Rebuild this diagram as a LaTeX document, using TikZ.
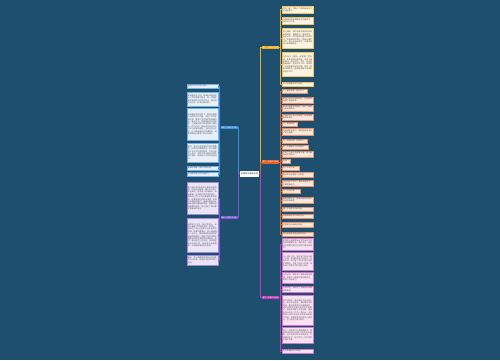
\documentclass[tikz,border=0pt]{standalone}
\usepackage{fontspec}
\setmainfont{Noto Sans CJK SC}
\XeTeXlinebreaklocale "zh"
\XeTeXlinebreakskip=0pt plus 0.4pt
\usetikzlibrary{positioning}
\definecolor{bgBlue}{HTML}{1E4F6E}
\definecolor{brYel}{HTML}{F2AC1E}
\definecolor{brOra}{HTML}{E4622A}
\definecolor{brPnk}{HTML}{C23DB9}
\definecolor{brBlu}{HTML}{3B8EE0}
\definecolor{brPur}{HTML}{7B55D3}
\definecolor{lfYel}{HTML}{FDF3DF}
\definecolor{lfOra}{HTML}{FCE8DC}
\definecolor{lfPnk}{HTML}{F8E2F4}
\definecolor{lfBlu}{HTML}{E6F0FB}
\definecolor{lfPur}{HTML}{EBE5FA}
\definecolor{inkGray}{HTML}{555555}
\newcommand\leaffont{\fontsize{1.9}{2.4}\selectfont\tolerance=9999\emergencystretch=2pt}
\tikzset{
  leaf/.style    = {draw, line width=0.25pt, inner xsep=1pt, inner ysep=0.6pt,
                    text=inkGray, font=\leaffont, align=justify},
  lfyel/.style   = {leaf, fill=lfYel, draw=brYel!70},
  lfora/.style   = {leaf, fill=lfOra, draw=brOra!70},
  lfpnk/.style   = {leaf, fill=lfPnk, draw=brPnk!70},
  lfblu/.style   = {leaf, fill=lfBlu, draw=brBlu!70},
  lfpur/.style   = {leaf, fill=lfPur, draw=brPur!70},
  branch/.style  = {text=white, inner sep=0.6pt, minimum width=17pt,
                    minimum height=3.6pt, font=\fontsize{1.7}{2}\selectfont},
  centre/.style  = {fill=white, text=black!85, inner sep=0.8pt, minimum width=19pt,
                    minimum height=6pt, font=\fontsize{2.1}{2.5}\selectfont},
  conn/.style    = {line width=0.45pt},
}

\begin{document}
\begin{tikzpicture}[x=1pt, y=-1pt]
  \useasboundingbox (0,0) rectangle (500,360);
  \fill[bgBlue] (0,0) rectangle (500,360);

  \node[centre] (root) at (249.5,173.5) {护理实习报告总结};

  \node[branch, fill=brYel] (yb) at (270.5,47.5)  {篇一：护理实习总结};
  \node[branch, fill=brOra] (ob) at (270.5,162)   {篇二：护理实习总结};
  \node[branch, fill=brPnk] (kb) at (270.5,297.5) {篇三：护理实习总结};
  \node[branch, fill=brBlu] (bb) at (229,127.5)   {篇四：护理实习总结};
  \node[branch, fill=brPur] (pb) at (229,217.5)   {篇五：护理实习总结};

  \draw[conn, brYel] (root.east) -- ++(1.5,0) |- (yb.west);
  \draw[conn, brOra] (root.east) -- ++(1.5,0) |- (ob.west);
  \draw[conn, brPnk] (root.east) -- ++(1.5,0) |- (kb.west);
  \draw[conn, brBlu] (root.west) -- ++(-1.5,0) |- (bb.east);
  \draw[conn, brPur] (root.west) -- ++(-1.5,0) |- (pb.east);

  % right side leaves: name / top / height / text width / text
  \foreach \nm/\yy/\h/\w/\tx in {
    y1/6/7/29/{时光飞逝，为期八个月的临床实习已经结束了。},
    y2/17/7/29/{在医院领导和带教老师的指导下，我学到了很多。},
    y3/28/20/29/{实习期间，我严格遵守医院的各项规章制度，尊敬师长，团结同学，踏实工作，努力做到护理工作规范化，技能服务优质化，基础护理灵活化，爱心活动经常化，将理论知识与实践相结合。},
    y4/52/24/29/{在内科实习期间，我掌握了常见病、多发病的护理常规，学会了静脉输液、肌肉注射、导尿、吸痰等基础操作；在外科实习中，我熟悉了术前准备和术后护理，学会了观察病情变化，能够配合医生完成各项治疗工作。},
    y5/82/4/29/{以上就是我的实习总结。}}{
    \node[lfyel, text width=\w pt, minimum height=\h pt, anchor=north west] (\nm) at (282,\yy) {\tx};
    \draw[conn, brYel] (yb.east) -- ++(1.5,0) |- (\nm.west);
  }
  \foreach \nm/\yy/\h/\w/\tx in {
    o1/89/4/23/{一、端正态度，虚心学习},
    o2/97/5.5/29/{刚进入病房时感到陌生，在老师的讲解下逐渐熟悉。},
    o3/105/5.5/29/{每天认真做好交接班，及时了解病人的病情变化。},
    o4/114/5.5/29/{严格执行三查七对制度，杜绝差错事故的发生。},
    o5/122/3.5/13/{二、提高技能},
    o6/128/7/29/{在老师的指导下，我的穿刺技术有了很大提高。},
    o7/139/3.5/23/{三、加强沟通，关爱病人},
    o8/145/3.5/24/{四、注重理论与实践结合},
    o9/151/5.5/29/{学会了与病人及家属沟通，耐心解答他们的疑问。},
    o10/159/3.5/6/{总结},
    o11/166/3.5/15/{五、不足之处},
    o12/172/5/29/{理论知识还需进一步巩固。},
    o13/180/6/29/{在今后的工作中，我会更加努力，不断提高自己。},
    o14/189/4/16/{六、今后打算},
    o15/197/5.5/29/{继续加强学习，提高自身的业务水平和综合素质。},
    o16/207/4/29/{做一名合格的白衣天使。},
    o17/214/4/29/{感谢带教老师的辛勤付出。},
    o18/222/4.5/29/{这段经历让我终身受益。},
    o19/232/4/29/{我将带着收获走向新的岗位。}}{
    \node[lfora, text width=\w pt, minimum height=\h pt, anchor=north west] (\nm) at (282,\yy) {\tx};
    \draw[conn, brOra] (ob.east) -- ++(1.5,0) |- (\nm.west);
  }
  \foreach \nm/\yy/\h/\w/\tx in {
    k1/238/12/29/{护理实习是护理专业学生走向工作岗位的重要阶段，通过实习，我将所学的理论知识运用到了临床实践中。},
    k2/252/18/29/{在儿科实习时，我学会了如何与患儿沟通，如何取得家长的信任；在妇产科，我了解了孕妇产前产后的护理要点，学会了新生儿护理，体会到了护理工作的辛苦与伟大。},
    k3/272/11/29/{在急诊科，我学会了急救设备的使用，掌握了心肺复苏等抢救技术，提高了应急能力。},
    k4/286/6/29/{在手术室，我熟悉了无菌操作和器械的使用。},
    k5/295/30/29/{实习过程中，我也发现了自己的不足。由于缺乏经验，有时操作不够熟练，面对突发情况时容易紧张。通过老师的指导和自己的不断练习，我逐渐克服了这些问题。我深刻地认识到，作为一名护士，不仅要有扎实的专业知识和熟练的操作技能，更要有高度的责任心和爱心，全心全意为病人服务。},
    k6/327/16/29/{总之，这次实习让我收获颇丰，我会把这份经历当作人生的宝贵财富，在今后的工作中不断学习，严格要求自己，努力成为一名优秀的护理工作者。},
    k7/349/4/29/{以上是我的实习总结。}}{
    \node[lfpnk, text width=\w pt, minimum height=\h pt, anchor=north west] (\nm) at (282,\yy) {\tx};
    \draw[conn, brPnk] (kb.east) -- ++(1.5,0) |- (\nm.west);
  }

  % left side leaves: name / top / height / text
  \foreach \nm/\yy/\h/\tx in {
    b1/84/4/{护理工作平凡而又伟大。},
    b2/92/14/{来到医院实习后，我深刻体会到护士工作的繁重与责任，每一项操作都关系到病人的生命安全，容不得半点马虎，必须认真对待。},
    b3/108/32/{在带教老师的指导下，我逐步熟悉了病房的工作流程，学会了书写护理记录，掌握了生命体征的测量方法。每天早上，我跟随老师巡视病房，了解每位病人的病情和心理状态。在工作中，我始终坚持以病人为中心的服务理念，主动与病人交流，尽力满足他们的合理需求，用微笑和耐心赢得了病人的信任。},
    b4/143/19/{同时，我也认识到团队合作的重要性。护理工作需要医生、护士和其他工作人员的密切配合，只有大家齐心协力，才能为病人提供优质的医疗服务，保证治疗工作的顺利进行。},
    b5/166/3.5/{我会珍惜每一次学习的机会。},
    b6/172/4/{努力提升自己的专业能力。}}{
    \node[lfblu, text width=29pt, minimum height=\h pt, anchor=north east] (\nm) at (218,\yy) {\tx};
    \draw[conn, brBlu] (bb.west) -- ++(-1.5,0) |- (\nm.east);
  }
  \foreach \nm/\yy/\h/\tx in {
    p1/182/32/{实习是从学校走向社会的过渡阶段。在这段时间里，我不仅学到了专业知识，还学会了如何做人、如何做事。在老师们的言传身教下，我明白了护士不仅要有精湛的技术，还要有良好的职业道德。护理工作琐碎而繁忙，但每当看到病人康复出院时露出的笑容，我都会感到由衷的欣慰，这也坚定了我从事护理事业的信念。},
    p2/218/34/{回顾实习生活，我在思想上、业务上都有了很大的进步。思想上，我树立了全心全意为人民服务的思想，热爱护理事业，关心体贴病人；业务上，我能够熟练完成各项基础护理操作，掌握了常见病的护理要点和急危重症的抢救配合。当然，我也存在一些不足，比如理论知识不够扎实，应变能力有待提高，今后我会继续努力改进。},
    p3/255/10/{最后，衷心感谢医院给我这次宝贵的实习机会，感谢各位老师的悉心指导。}}{
    \node[lfpur, text width=29pt, minimum height=\h pt, anchor=north east] (\nm) at (218,\yy) {\tx};
    \draw[conn, brPur] (pb.west) -- ++(-1.5,0) |- (\nm.east);
  }
\end{tikzpicture}
\end{document}
